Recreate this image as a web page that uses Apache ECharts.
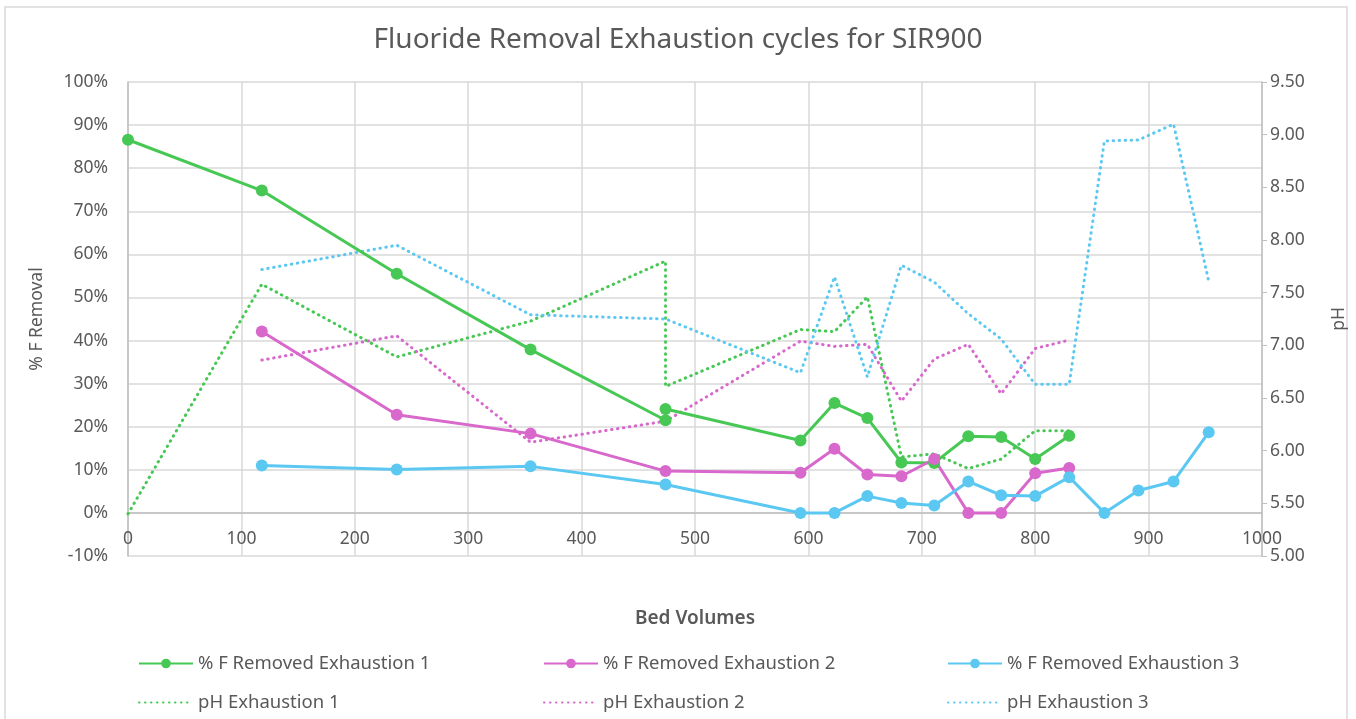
<!DOCTYPE html>
<html>
<head>
<meta charset="utf-8">
<title>Fluoride Removal Exhaustion cycles for SIR900</title>
<script src="https://cdn.jsdelivr.net/npm/echarts@6/dist/echarts.min.js"></script>
<style>
  html, body { margin: 0; padding: 0; background: #fff; }
  #chart { width: 1356px; height: 719px; }
</style>
</head>
<body>
<div id="chart"></div>
<script>
// bed volumes for each exhaustion run (run 1 has two samples at 474 BV)
const bvEx1 = [0, 118, 237, 355, 474, 474, 593, 623, 652, 682, 711, 741, 770, 800, 830]
const bvEx2 = [118, 237, 355, 474, 593, 623, 652, 682, 711, 741, 770, 800, 830]
const bvEx3 = [118, 237, 355, 474, 593, 623, 652, 682, 711, 741, 770, 800, 830, 861, 891, 922, 953]

// % F removed
const removedEx1 = [86.6, 74.8, 55.5, 37.9, 21.5, 24.1, 16.8, 25.5, 22.0, 11.7, 11.6, 17.8, 17.6, 12.5, 17.9]
const removedEx2 = [42.1, 22.8, 18.4, 9.7, 9.3, 14.9, 8.9, 8.5, 12.5, 0, 0, 9.2, 10.4]
const removedEx3 = [11.0, 10.1, 10.8, 6.6, 0, 0, 3.9, 2.3, 1.7, 7.3, 4.1, 3.9, 8.3, 0, 5.2, 7.3, 18.7]

// pH
const phEx1 = [5.40, 7.58, 6.89, 7.23, 7.80, 6.61, 7.15, 7.13, 7.46, 5.94, 5.97, 5.83, 5.92, 6.19, 6.19]
const phEx2 = [6.86, 7.09, 6.08, 6.28, 7.04, 6.99, 7.01, 6.47, 6.87, 7.01, 6.54, 6.97, 7.05]
const phEx3 = [7.72, 7.95, 7.29, 7.25, 6.74, 7.65, 6.70, 7.76, 7.60, 7.30, 7.06, 6.63, 6.63, 8.94, 8.95, 9.10, 7.61]

const names = [
  '% F Removed Exhaustion 1', '% F Removed Exhaustion 2', '% F Removed Exhaustion 3',
  'pH Exhaustion 1', 'pH Exhaustion 2', 'pH Exhaustion 3'
]
const colors = ['#47c854', '#d868cb', '#5bc8f2']

const pair = (xs, ys) => xs.map((x, i) => [x, ys[i]])

const textColor = '#595959'
const font = 'Noto Sans'

function removedSeries(name, color, xs, ys) {
  return {
    name: name,
    type: 'line',
    yAxisIndex: 0,
    data: pair(xs, ys),
    symbol: 'circle',
    symbolSize: 12,
    itemStyle: { color: color },
    lineStyle: { color: color, width: 3 },
    z: 3
  }
}

function phSeries(name, color, xs, ys) {
  return {
    name: name,
    type: 'line',
    yAxisIndex: 1,
    data: pair(xs, ys),
    symbol: 'none',
    itemStyle: { color: color },
    lineStyle: { color: color, width: 3, type: [0.5, 5.5], cap: 'round' },
    z: 2
  }
}

// one legend column: solid series on top, its pH series below (no marker)
function legendCol(left, solid, dotted) {
  return {
    orient: 'vertical',
    left: left,
    top: 649,
    itemWidth: 54,
    itemHeight: 12,
    itemGap: 20,
    data: [solid, { name: dotted, itemStyle: { opacity: 0 } }],
    textStyle: { color: textColor, fontSize: 18.5, fontFamily: font }
  }
}

const chart = echarts.init(document.getElementById('chart'))
chart.setOption({
  animation: false,
  textStyle: { fontFamily: font },
  title: {
    text: 'Fluoride Removal Exhaustion cycles for SIR900',
    left: 'center',
    top: 21,
    textStyle: { color: textColor, fontSize: 28, fontWeight: 'normal', fontFamily: font }
  },
  graphic: [{
    type: 'rect',
    shape: { x: 5, y: 7, width: 1342, height: 730 },
    style: { fill: 'none', stroke: '#d9d9d9', lineWidth: 1.5 },
    silent: true
  }],
  legend: [
    legendCol(133, names[0], names[3]),
    legendCol(538, names[1], names[4]),
    legendCol(942, names[2], names[5])
  ],
  grid: { left: 128, right: 91, top: 82, bottom: 163 },
  xAxis: {
    type: 'value',
    min: 0,
    max: 1000,
    interval: 100,
    name: 'Bed Volumes',
    nameLocation: 'middle',
    nameGap: 53,
    nameTextStyle: { color: textColor, fontSize: 19, fontWeight: 600 },
    axisLine: { onZero: true, onZeroAxisIndex: 0, lineStyle: { color: '#bfbfbf', width: 1.5 } },
    axisTick: { show: false },
    axisLabel: { color: textColor, fontSize: 17.5, margin: -26, formatter: v => String(v) },
    splitLine: { show: true, lineStyle: { color: '#d9d9d9', width: 1.5 } }
  },
  yAxis: [{
    type: 'value',
    min: -10,
    max: 100,
    interval: 10,
    name: '% F Removal',
    nameLocation: 'middle',
    nameGap: 82,
    nameTextStyle: { color: textColor, fontSize: 17.5 },
    axisLine: { show: true, lineStyle: { color: '#bfbfbf', width: 1.5 } },
    axisTick: { show: false },
    axisLabel: { color: textColor, fontSize: 17.5, margin: 20, formatter: '{value}%' },
    splitLine: { show: true, lineStyle: { color: '#d9d9d9', width: 1.5 } }
  }, {
    type: 'value',
    position: 'right',
    min: 5,
    max: 9.5,
    interval: 0.5,
    name: 'pH',
    nameLocation: 'middle',
    nameGap: 68,
    nameRotate: 90,
    nameTextStyle: { color: textColor, fontSize: 17.5 },
    axisLine: { show: true, lineStyle: { color: '#bfbfbf', width: 1.5 } },
    axisTick: { show: true, length: 5, lineStyle: { color: '#bfbfbf' } },
    axisLabel: { color: textColor, fontSize: 17.5, margin: 8, formatter: v => v.toFixed(2) },
    splitLine: { show: false }
  }],
  series: [
    removedSeries(names[0], colors[0], bvEx1, removedEx1),
    removedSeries(names[1], colors[1], bvEx2, removedEx2),
    removedSeries(names[2], colors[2], bvEx3, removedEx3),
    phSeries(names[3], colors[0], bvEx1, phEx1),
    phSeries(names[4], colors[1], bvEx2, phEx2),
    phSeries(names[5], colors[2], bvEx3, phEx3)
  ]
})
</script>
</body>
</html>
